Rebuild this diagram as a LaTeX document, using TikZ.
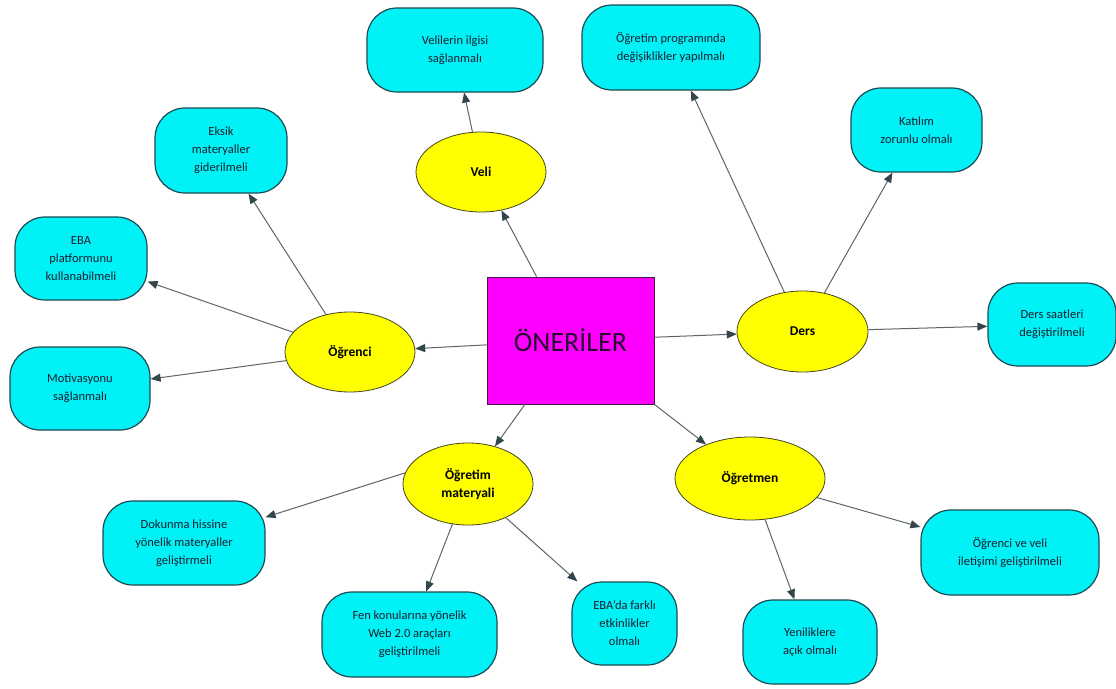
\documentclass[tikz,border=0pt]{standalone}
\usepackage{fontspec}
\setmainfont{Carlito}
\usetikzlibrary{shapes.geometric,arrows.meta}
\definecolor{boxfill}{RGB}{0,242,246}
\definecolor{boxedge}{RGB}{28,74,84}
\definecolor{catfill}{RGB}{255,255,0}
\definecolor{catedge}{RGB}{70,70,30}
\definecolor{hubfill}{RGB}{255,0,255}
\definecolor{hubedge}{RGB}{70,20,70}
\definecolor{linkgray}{RGB}{95,100,102}
\definecolor{tipcol}{RGB}{52,70,76}
\definecolor{txt}{RGB}{28,30,48}
\definecolor{hubtxt}{RGB}{40,10,50}
\tikzset{
  hub/.style={rectangle, draw=hubedge, fill=hubfill, line width=0.9pt,
    minimum width=167, minimum height=127, inner sep=0pt,
    font=\fontsize{28}{30}\selectfont, text=hubtxt},
  cat/.style={ellipse, draw=catedge, fill=catfill, line width=0.8pt,
    inner sep=0pt, align=center, text=black,
    font=\bfseries\fontsize{13.5}{18}\selectfont},
  idea/.style={rectangle, rounded corners=30pt, draw=boxedge, fill=boxfill,
    line width=1.2pt, inner sep=0pt, align=center, text=txt,
    font=\fontsize{12.5}{18}\selectfont},
  link/.style={draw=linkgray, line width=1pt,
    -{Triangle[length=10pt,width=8pt,fill=tipcol,color=tipcol]}},
}
\begin{document}
\begin{tikzpicture}[x=1pt,y=-1pt]
\useasboundingbox (0,0) rectangle (1116,688);
\fill[white] (0,0) rectangle (1116,688);

% central node
\node[hub] (hub) at (570.5,340.5) {ÖNERİLER};

% categories
\node[cat, minimum width=130, minimum height=80] (veli) at (481,172) {Veli};
\node[cat, minimum width=130, minimum height=80] (ogr) at (350,352) {Öğrenci};
\node[cat, minimum width=131, minimum height=81] (ders) at (802.5,331.5) {Ders};
\node[cat, minimum width=130, minimum height=82] (mat) at (468,484) {Öğretim\\materyali};
\node[cat, minimum width=150, minimum height=83] (ogm) at (750,478.5) {Öğretmen};

% suggestions
\node[idea, minimum width=176, minimum height=84] (v1) at (455,50) {Velilerin ilgisi\\sağlanmalı};
\node[idea, minimum width=178, minimum height=85] (d1) at (671,47.5) {Öğretim programında\\değişiklikler yapılmalı};
\node[idea, minimum width=131, minimum height=84] (d2) at (916.5,130) {Katılım\\zorunlu olmalı};
\node[idea, minimum width=128, minimum height=83] (d3) at (1052,324.5) {Ders saatleri\\değiştirilmeli};
\node[idea, minimum width=132, minimum height=85] (o1) at (221,150.5) {Eksik\\materyaller\\giderilmeli};
\node[idea, minimum width=132, minimum height=83] (o2) at (81,258.5) {EBA\\platformunu\\kullanabilmeli};
\node[idea, minimum width=140, minimum height=83] (o3) at (80,388.5) {Motivasyonu\\sağlanmalı};
\node[idea, minimum width=162, minimum height=84] (m1) at (184,543) {Dokunma hissine\\yönelik materyaller\\geliştirmeli};
\node[idea, minimum width=175, minimum height=85] (m2) at (409.5,634.5) {Fen konularına yönelik\\Web 2.0 araçları\\geliştirilmeli};
\node[idea, minimum width=105, minimum height=83] (m3) at (624.5,623.5) {EBA'da farklı\\etkinlikler\\olmalı};
\node[idea, minimum width=134, minimum height=84] (t1) at (810,642) {Yeniliklere\\açık olmalı};
\node[idea, minimum width=178, minimum height=85] (t2) at (1010,552.5) {Öğrenci ve veli\\iletişimi geliştirilmeli};

% hub to categories
\draw[link] (hub) -- (veli);
\draw[link] (hub) -- (ogr);
\draw[link] (hub) -- (ders);
\draw[link] (hub) -- (mat);
\draw[link] (hub.south east) -- (ogm);

% categories to suggestions
\draw[link] (veli) -- (v1);
\draw[link] (ders) -- (d1);
\draw[link] (ders) -- (d2);
\draw[link] (ders) -- (d3);
\draw[link] (ogr) -- (o1);
\draw[link] (ogr) -- (o2);
\draw[link] (ogr) -- (o3);
\draw[link] (mat.170) -- (m1);
\draw[link] (mat) -- (m2);
\draw[link] (mat) -- (m3);
\draw[link] (ogm) -- (t1);
\draw[link] (ogm) -- (t2);
\end{tikzpicture}
\end{document}
